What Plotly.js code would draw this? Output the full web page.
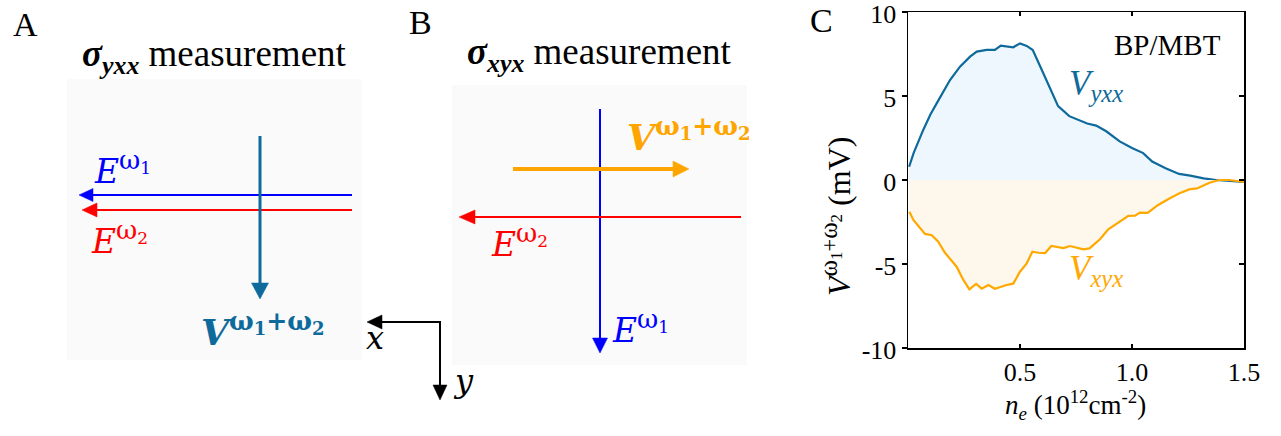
<!DOCTYPE html>
<html>
<head>
<meta charset="utf-8">
<script src="https://cdn.plot.ly/plotly-3.0.1.min.js"></script>
<style>html,body{margin:0;padding:0;background:#fff;}</style>
</head>
<body>
<div id="chart" style="width:1281px;height:436px;"></div>
<script>
// ---- data (panel C) ----
const neYxx = [0.005, 0.025, 0.068, 0.10, 0.128, 0.1875, 0.232, 0.277, 0.307, 0.351, 0.388, 0.414, 0.47, 0.50, 0.53, 0.557, 0.604, 0.64, 0.67, 0.72, 0.768, 0.80, 0.84, 0.885, 0.945, 1.00, 1.05, 1.09, 1.15, 1.21, 1.26, 1.32, 1.375, 1.435, 1.50];
const vYxx  = [0.79, 1.6, 2.98, 3.9, 4.56, 5.95, 6.75, 7.34, 7.64, 7.74, 7.74, 8.0, 7.9, 8.13, 7.98, 7.74, 6.35, 5.26, 4.4, 3.8, 3.53, 3.36, 3.24, 2.9, 2.3, 1.9, 1.6, 1.1, 0.7, 0.36, 0.26, 0.1, 0.0, -0.06, -0.12];
const neXyx = [0.006, 0.024, 0.076, 0.106, 0.135, 0.165, 0.217, 0.247, 0.274, 0.304, 0.329, 0.359, 0.388, 0.44, 0.47, 0.50, 0.53, 0.555, 0.582, 0.612, 0.64, 0.694, 0.723, 0.753, 0.783, 0.81, 0.857, 0.894, 0.946, 0.984, 1.013, 1.036, 1.07, 1.115, 1.167, 1.21, 1.255, 1.29, 1.346, 1.39, 1.435, 1.50];
const vXyx  = [-1.89, -2.38, -3.21, -3.29, -3.67, -4.33, -5.16, -5.95, -6.51, -6.19, -6.47, -6.25, -6.47, -6.25, -6.17, -5.46, -4.96, -4.27, -4.33, -4.35, -3.93, -4.05, -3.93, -4.01, -4.13, -4.07, -3.53, -2.94, -2.48, -2.14, -2.12, -1.94, -1.96, -1.5, -1.1, -0.8, -0.56, -0.5, -0.16, 0.0, 0.0, -0.12];
const xTicks = [0.5, 1.0, 1.5];
const xTickText = ['0.5', '1.0', '1.5'];
const yTicks = [-10, -5, 0, 5, 10];
const yTickText = ['-10', '-5', '0', '5', '10'];

// ---- styling ----
const W = 1281, H = 436;
const X = p => p / W, Y = p => 1 - p / H;
const TEAL = '#0f6a9c', BLUE = '#0000ff', RED = '#ff0000', ORANGE = '#ffa500';
const SERIF = '"Liberation Serif", "Times New Roman", Times, serif';
const MATH = '"DejaVu Serif", serif';

const traces = [
  {x: neYxx, y: vYxx, type: 'scatter', mode: 'lines', fill: 'tozeroy',
   fillcolor: '#eef7fe', line: {color: TEAL, width: 2.2}, xaxis: 'x', yaxis: 'y', hoverinfo: 'skip'},
  {x: neXyx, y: vXyx, type: 'scatter', mode: 'lines', fill: 'tozeroy',
   fillcolor: '#fef8ec', line: {color: '#ffa800', width: 2.2}, xaxis: 'x', yaxis: 'y2', hoverinfo: 'skip'}
];

// arrow drawn as a line + filled triangle head (pixel coordinates converted to paper)
function arrow(x1, y1, x2, y2, color, width, headLen, headWid) {
  const dx = x2 - x1, dy = y2 - y1, L = Math.hypot(dx, dy);
  const ux = dx / L, uy = dy / L;
  const bx = x2 - ux * headLen, by = y2 - uy * headLen;
  const px = -uy * headWid / 2, py = ux * headWid / 2;
  return [
    {type: 'line', xref: 'paper', yref: 'paper', x0: X(x1), y0: Y(y1), x1: X(bx + ux * 1), y1: Y(by + uy * 1),
     line: {color: color, width: width}},
    {type: 'path', xref: 'paper', yref: 'paper',
     path: 'M' + X(x2) + ',' + Y(y2) + ' L' + X(bx + px) + ',' + Y(by + py) + ' L' + X(bx - px) + ',' + Y(by - py) + ' Z',
     fillcolor: color, line: {color: color, width: 0.5}}
  ];
}
function label(px, py, text, font, xanchor, angle) {
  const a = {x: X(px), y: Y(py), xref: 'paper', yref: 'paper', text: text, showarrow: false,
             font: font, xanchor: xanchor || 'center', yanchor: 'middle', borderpad: 0};
  if (angle !== undefined) a.textangle = angle;
  return a;
}
const omega = (k, big, small) => '<span style="font-size:' + big + 'px">ω</span><sub><span style="font-size:' + small + 'px">' + k + '</span></sub>';
const eLabel = k => '<i>E</i><sup>' + omega(k, 26, 17) + '</sup>';
const vLabel = '<b><i>V</i><sup>' + omega(1, 26, 18) + '+' + omega(2, 26, 18) + '</sup></b>';

const annotations = [
  // panel letters
  label(25, 24, 'A', {family: SERIF, size: 34, color: '#000'}),
  label(421, 22, 'B', {family: SERIF, size: 34, color: '#000'}),
  label(821, 21, 'C', {family: SERIF, size: 34, color: '#000'}),
  // titles
  label(214, 56, '<b><i>σ</i><sub><i>yxx</i></sub></b> measurement', {family: SERIF, size: 37, color: '#000'}),
  label(599, 54, '<b><i>σ</i><sub><i>xyx</i></sub></b> measurement', {family: SERIF, size: 37, color: '#000'}),
  // panel A labels
  label(93, 168, eLabel(1), {family: MATH, size: 33, color: BLUE}, 'left'),
  label(90, 238, eLabel(2), {family: MATH, size: 33, color: RED}, 'left'),
  label(200, 329, vLabel, {family: MATH, size: 36, color: TEAL}, 'left'),
  label(375, 338, '<i>x</i>', {family: MATH, size: 32, color: '#000'}),
  label(463, 381, '<i>y</i>', {family: MATH, size: 32, color: '#000'}),
  // panel B labels
  label(611, 327, eLabel(1), {family: MATH, size: 33, color: BLUE}, 'left'),
  label(490, 241, eLabel(2), {family: MATH, size: 33, color: RED}, 'left'),
  label(626, 134, vLabel, {family: MATH, size: 36, color: ORANGE}, 'left'),
  // panel C labels
  label(1167, 45, 'BP/MBT', {family: SERIF, size: 29, color: '#000'}),
  label(1068, 85, '<i>V</i><sub><i>yxx</i></sub>', {family: SERIF, size: 35, color: TEAL}, 'left'),
  label(1068, 270, '<i>V</i><sub><i>xyx</i></sub>', {family: SERIF, size: 35, color: '#ffa800'}, 'left'),
  label(1075, 405, '<i>n</i><sub><i>e</i></sub> (10<sup>12</sup>cm<sup>-2</sup>)', {family: SERIF, size: 27, color: '#000'}),
  label(836, 216, '<i>V</i><sup>' + omega(1, 25, 17) + '+' + omega(2, 25, 17) + '</sup> (mV)', {family: SERIF, size: 32, color: '#000'}, 'center', -90)
];

const shapes = [
  {type: 'rect', xref: 'paper', yref: 'paper', x0: X(67), x1: X(362), y0: Y(360), y1: Y(79),
   fillcolor: '#fafafa', line: {width: 0}, layer: 'below'},
  {type: 'rect', xref: 'paper', yref: 'paper', x0: X(452), x1: X(747), y0: Y(365), y1: Y(85),
   fillcolor: '#fafafa', line: {width: 0}, layer: 'below'}
].concat(
  arrow(352, 195, 79, 195, BLUE, 2, 14, 13),
  arrow(352, 210, 82, 210, RED, 2, 15, 14),
  arrow(260, 136, 260, 299, TEAL, 3, 16, 17),
  arrow(440, 322, 367, 322, '#000', 2, 15, 14),
  arrow(440, 321, 440, 400, '#000', 2, 15, 14),
  arrow(600, 109, 600, 353, BLUE, 2, 15, 15),
  arrow(513, 169, 689, 169, ORANGE, 4, 16, 16),
  arrow(741, 217, 459, 217, RED, 2, 16, 14)
);

const tickFont = {family: SERIF, size: 26, color: '#000'};
const layout = {
  width: W, height: H, margin: {l: 0, r: 0, t: 0, b: 0},
  paper_bgcolor: '#fff', plot_bgcolor: 'rgba(0,0,0,0)', showlegend: false,
  xaxis: {domain: [X(908), X(1244)], range: [0, 1.5], tickvals: xTicks, ticktext: xTickText,
          ticks: 'inside', ticklen: 4, tickwidth: 1.2, tickcolor: '#000', showline: true, linecolor: '#000',
          linewidth: 1.5, mirror: 'ticks', showgrid: false, zeroline: false, tickfont: tickFont,
          automargin: false, anchor: 'y', ticklabeloverflow: 'allow'},
  yaxis: {domain: [Y(348), Y(12)], range: [-10, 10], tickvals: yTicks, ticktext: yTickText,
          ticks: 'outside', ticklen: 5, tickwidth: 1.2, tickcolor: '#000', showline: true, linecolor: '#000',
          linewidth: 1.5, mirror: true, showgrid: false, zeroline: false, tickfont: tickFont,
          automargin: false, anchor: 'x', ticklabeloverflow: 'allow', ticklabelshift: 2},
  yaxis2: {overlaying: 'y', side: 'right', anchor: 'x', range: [-10, 10], tickvals: [-5, 0, 5],
           ticks: 'inside', ticklen: 5, tickwidth: 1.2, tickcolor: '#000', showticklabels: false,
           showline: false, showgrid: false, zeroline: false},
  annotations: annotations,
  shapes: shapes
};

Plotly.newPlot('chart', traces, layout, {staticPlot: true, displayModeBar: false});
</script>
</body>
</html>
